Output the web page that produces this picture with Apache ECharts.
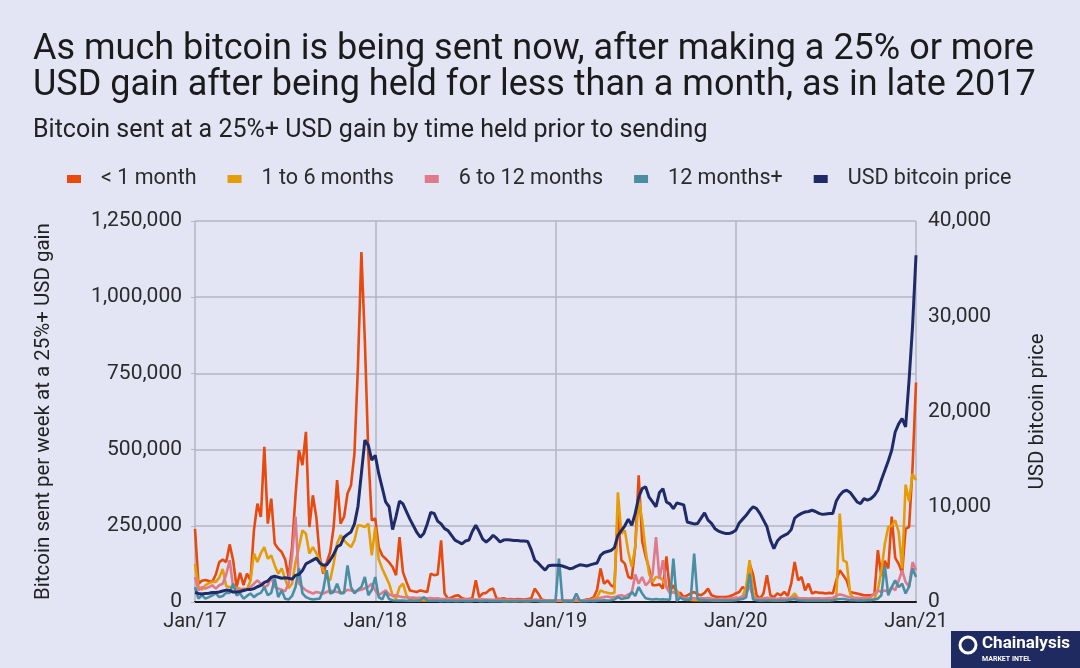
<!DOCTYPE html>
<html>
<head>
<meta charset="utf-8">
<script src="https://cdn.jsdelivr.net/npm/echarts@6/dist/echarts.min.js"></script>
<style>
  html, body { margin: 0; padding: 0; background: #e3e5f4; }
  #chart { width: 1080px; height: 668px; }
</style>
</head>
<body>
<div id="chart"></div>
<script>
// weekly points, Jan 2017 -> Jan 2021 (index 0..208), BTC values in thousands
const xTickLabels = ['Jan/17', 'Jan/18', 'Jan/19', 'Jan/20', 'Jan/21'];

const lessThan1m = [
  240, 60, 70, 72, 69, 66, 90, 131, 139, 131,
  189, 137, 49, 96, 55, 93, 71, 235, 323, 279,
  509, 257, 339, 192, 175, 164, 140, 82, 180, 350,
  498, 449, 558, 246, 350, 279, 148, 93, 130, 164,
  246, 400, 257, 279, 356, 383, 487, 771, 1148, 859,
  487, 268, 274, 180, 153, 142, 130, 115, 88, 213,
  98, 66, 38, 35, 33, 38, 35, 33, 93, 88,
  90, 202, 28, 11, 15, 20, 22, 12, 10, 10,
  12, 71, 16, 28, 30, 40, 44, 11, 10, 12,
  9, 10, 8, 10, 9, 8, 10, 12, 44, 28,
  8, 6, 5, 5, 5, 5, 6, 5, 6, 5,
  8, 6, 5, 8, 10, 15, 40, 110, 60, 71,
  55, 49, 300, 137, 126, 82, 77, 180, 416, 200,
  150, 110, 55, 55, 58, 44, 150, 35, 55, 28,
  30, 16, 22, 28, 33, 25, 22, 30, 44, 22,
  18, 16, 16, 16, 18, 22, 28, 33, 49, 40,
  126, 90, 22, 11, 28, 88, 22, 16, 28, 22,
  33, 20, 60, 131, 71, 82, 38, 60, 28, 33,
  30, 30, 28, 30, 28, 71, 104, 88, 71, 33,
  30, 28, 25, 22, 22, 22, 25, 170, 85, 135,
  110, 280, 145, 125, 95, 240, 246, 440, 720
];

const oneTo6m = [
  125, 50, 40, 55, 62, 66, 66, 80, 108, 52,
  49, 49, 47, 44, 38, 42, 70, 159, 131, 160,
  180, 142, 153, 120, 93, 110, 75, 45, 60, 131,
  180, 235, 224, 159, 180, 160, 137, 104, 80, 71,
  126, 192, 219, 202, 190, 180, 202, 252, 250, 246,
  257, 153, 246, 140, 110, 85, 60, 22, 11, 49,
  60, 22, 8, 6, 5, 5, 6, 5, 5, 6,
  5, 6, 5, 4, 5, 4, 4, 5, 4, 4,
  5, 4, 4, 5, 4, 4, 5, 4, 4, 3,
  3, 4, 3, 3, 4, 3, 3, 4, 5, 4,
  3, 3, 3, 3, 3, 4, 3, 3, 4, 3,
  4, 3, 4, 5, 6, 10, 16, 38, 33, 30,
  28, 30, 360, 224, 235, 164, 115, 180, 340, 268,
  170, 93, 66, 82, 82, 71, 49, 33, 33, 38,
  16, 10, 8, 7, 6, 6, 6, 7, 8, 6,
  5, 5, 5, 6, 6, 7, 8, 10, 20, 49,
  137, 30, 8, 6, 6, 8, 6, 5, 5, 6,
  6, 8, 15, 28, 12, 8, 6, 6, 6, 6,
  6, 6, 6, 6, 8, 10, 290, 137, 131, 28,
  11, 8, 8, 8, 8, 8, 10, 40, 100, 190,
  246, 250, 268, 230, 110, 385, 330, 420, 400
];

const sixTo12m = [
  82, 38, 49, 44, 49, 55, 44, 55, 60, 90,
  137, 49, 44, 38, 44, 40, 49, 60, 71, 60,
  49, 55, 82, 49, 44, 40, 35, 60, 150, 280,
  60, 49, 38, 33, 28, 33, 30, 28, 33, 38,
  35, 33, 30, 33, 40, 38, 35, 38, 40, 45,
  50, 60, 38, 22, 30, 38, 25, 20, 22, 18,
  16, 15, 14, 15, 13, 14, 12, 12, 13, 11,
  12, 10, 10, 11, 9, 10, 9, 8, 9, 8,
  9, 8, 8, 9, 8, 8, 7, 8, 7, 7,
  7, 7, 6, 7, 6, 6, 7, 6, 8, 7,
  6, 5, 5, 5, 5, 6, 5, 5, 6, 5,
  6, 5, 6, 6, 7, 8, 10, 14, 16, 18,
  15, 16, 20, 22, 18, 25, 30, 90, 60, 82,
  55, 66, 90, 213, 75, 137, 49, 28, 33, 25,
  16, 14, 12, 13, 12, 11, 12, 12, 13, 11,
  10, 10, 11, 10, 12, 13, 14, 15, 18, 25,
  55, 15, 12, 11, 12, 14, 12, 11, 10, 12,
  11, 12, 14, 16, 13, 12, 12, 11, 12, 12,
  12, 11, 12, 13, 14, 20, 25, 22, 18, 15,
  14, 14, 13, 14, 15, 16, 28, 38, 33, 38,
  33, 49, 38, 70, 104, 66, 49, 131, 104
];

const twelvePlus = [
  49, 11, 22, 11, 16, 22, 28, 16, 20, 30,
  30, 60, 22, 28, 11, 20, 28, 16, 25, 30,
  49, 22, 30, 77, 16, 38, 11, 8, 20, 49,
  110, 28, 16, 11, 8, 10, 11, 40, 104, 28,
  33, 60, 28, 30, 120, 49, 28, 40, 49, 82,
  22, 40, 82, 16, 8, 33, 10, 6, 5, 5,
  5, 4, 5, 4, 5, 6, 16, 5, 4, 4,
  4, 3, 4, 3, 4, 3, 3, 4, 3, 3,
  3, 5, 3, 3, 4, 3, 3, 3, 3, 3,
  3, 3, 3, 4, 3, 3, 3, 3, 4, 3,
  3, 3, 3, 3, 3, 142, 4, 3, 3, 3,
  28, 4, 3, 3, 4, 3, 4, 5, 6, 5,
  6, 8, 16, 10, 12, 14, 33, 20, 49, 28,
  12, 10, 8, 10, 8, 9, 8, 7, 142, 3,
  15, 8, 7, 8, 159, 10, 6, 6, 5, 5,
  5, 5, 5, 5, 5, 5, 6, 8, 10, 15,
  93, 8, 6, 5, 5, 5, 5, 5, 5, 5,
  5, 6, 8, 10, 6, 5, 5, 5, 5, 5,
  5, 5, 5, 5, 6, 8, 10, 10, 8, 6,
  6, 5, 6, 5, 6, 6, 8, 11, 22, 120,
  22, 49, 71, 49, 60, 28, 50, 110, 82
];

const btcPrice = [
  1000, 900, 850, 900, 920, 1000, 1000, 1050, 1150, 1250,
  1200, 1050, 1050, 1100, 1200, 1300, 1300, 1400, 1600, 1750,
  2050, 2200, 2600, 2700, 2600, 2500, 2550, 2500, 2400, 2800,
  2900, 3300, 4000, 4200, 4400, 4600, 4100, 3850, 3900, 4400,
  5000, 5800, 6000, 6800, 7100, 7350, 8200, 10000, 13500, 17000,
  16450, 14900, 15400, 13500, 12000, 10500, 10000, 7600, 9000, 10600,
  10300, 9500, 8700, 8000, 7300, 6800, 7200, 8200, 9400, 9300,
  8500, 8200, 7700, 7500, 7000, 6500, 6300, 6100, 6400, 6500,
  7400, 8050, 7400, 6600, 6300, 6600, 7000, 6700, 6300, 6500,
  6550, 6500, 6450, 6450, 6400, 6400, 6350, 5500, 4400, 4100,
  3700, 3350, 3800, 3850, 3850, 3850, 3780, 3650, 3500, 3550,
  3750, 3900, 3850, 3780, 3900, 4000, 4100, 4900, 5200, 5300,
  5400, 5700, 7000, 7500, 8000, 8700, 8050, 9300, 11000, 11900,
  12100, 11000, 10500, 10000, 11500, 11900, 10500, 10300, 9800, 10400,
  10300, 10200, 8400, 8300, 8200, 8250, 8800, 9350, 8600, 8250,
  7700, 7450, 7300, 7200, 7180, 7300, 7530, 8300, 8700, 9100,
  9600, 10000, 9800, 9280, 8600, 7900, 6500, 5600, 6400, 6800,
  7000, 7180, 7600, 8800, 9100, 9300, 9450, 9500, 9630, 9500,
  9300, 9200, 9250, 9280, 9300, 10600, 11200, 11600, 11730, 11500,
  11000, 10500, 10330, 10860, 10700, 10860, 11200, 11730, 12800, 13800,
  14800, 15930, 17850, 18700, 19250, 18380, 23280, 28880, 36400
];

const names = ['< 1 month', '1 to 6 months', '6 to 12 months', '12 months+', 'USD bitcoin price'];
const colors = ['#e8490c', '#e59c06', '#df7a89', '#4b8ea4', '#1e2b68'];

const chart = echarts.init(document.getElementById('chart'));

const gridColor = '#b3b5c2';
const textColor = '#2b2b2b';

function heldSeries(name, values, color) {
  return {
    name: name,
    type: 'line',
    yAxisIndex: 0,
    symbol: 'none',
    lineStyle: { width: 2.6, color: color },
    itemStyle: { color: color },
    data: values.map((v, i) => [i, v * 1000])
  };
}

const option = {
  backgroundColor: '#e3e5f4',
  animation: false,
  textStyle: { fontFamily: 'Roboto' },
  color: colors,
  title: [
    {
      text: 'As much bitcoin is being sent now, after making a 25% or more\nUSD gain after being held for less than a month, as in late 2017',
      left: 28,
      top: 27,
      textStyle: { fontSize: 36, lineHeight: 36, fontWeight: 'normal', color: '#1b1b1b', fontFamily: 'Roboto' }
    },
    {
      text: 'Bitcoin sent at a 25%+ USD gain by time held prior to sending',
      left: 28,
      top: 113,
      textStyle: { fontSize: 25, fontWeight: 'normal', color: '#222222', fontFamily: 'Roboto' }
    }
  ],
  legend: {
    left: 62,
    top: 163,
    icon: 'rect',
    itemWidth: 14,
    itemHeight: 8,
    itemGap: 31,
    data: names,
    textStyle: { fontSize: 21.5, color: textColor, padding: [0, 0, 0, 15] }
  },
  grid: { left: 195, right: 164, top: 221, bottom: 66 },
  xAxis: {
    type: 'value',
    min: 0,
    max: 208,
    interval: 52,
    axisLine: { show: true, lineStyle: { color: '#1a1a1a', width: 2 } },
    axisTick: { show: false },
    splitLine: { show: true, lineStyle: { color: gridColor, width: 1.5 } },
    axisLabel: {
      fontSize: 20,
      color: textColor,
      margin: 10,
      formatter: (v) => xTickLabels[Math.round(v / 52)]
    }
  },
  yAxis: [
    {
      type: 'value',
      min: 0,
      max: 1250000,
      interval: 250000,
      name: 'Bitcoin sent per week at a 25%+ USD gain',
      nameLocation: 'middle',
      nameRotate: 90,
      nameGap: 141,
      nameTextStyle: { fontSize: 20.5, color: '#222222' },
      axisLine: { show: false },
      axisTick: { show: true, length: 4, lineStyle: { color: gridColor } },
      splitLine: { show: true, lineStyle: { color: gridColor, width: 1.5 } },
      axisLabel: { fontSize: 21, color: textColor, margin: 13 }
    },
    {
      type: 'value',
      min: 0,
      max: 40000,
      interval: 10000,
      position: 'right',
      name: 'USD bitcoin price',
      nameLocation: 'middle',
      nameRotate: 90,
      nameGap: 111,
      nameTextStyle: { fontSize: 20.5, color: '#222222' },
      axisLine: { show: false },
      axisTick: { show: false },
      splitLine: { show: false },
      axisLabel: { fontSize: 21, color: textColor, margin: 12 }
    }
  ],
  series: [
    heldSeries(names[0], lessThan1m, colors[0]),
    heldSeries(names[1], oneTo6m, colors[1]),
    heldSeries(names[2], sixTo12m, colors[2]),
    heldSeries(names[3], twelvePlus, colors[3]),
    {
      name: names[4],
      type: 'line',
      yAxisIndex: 1,
      symbol: 'none',
      lineStyle: { width: 3, color: colors[4] },
      itemStyle: { color: colors[4] },
      data: btcPrice.map((v, i) => [i, v])
    }
  ],
  graphic: [
    {
      type: 'group',
      left: 951,
      top: 631,
      children: [
        { type: 'rect', shape: { x: 0, y: 0, width: 129, height: 37 }, style: { fill: '#1f2a60' } },
        { type: 'circle', shape: { cx: 17, cy: 14, r: 8 }, style: { fill: 'none', stroke: '#ffffff', lineWidth: 3 } },
        { type: 'text', style: { x: 31, y: 4, text: 'Chainalysis', fill: '#ffffff', font: 'bold 17px Roboto, sans-serif' } },
        { type: 'text', style: { x: 31, y: 25, text: 'MARKET INTEL', fill: '#ffffff', font: 'bold 7px Roboto, sans-serif' } }
      ]
    }
  ]
};

chart.setOption(option);
</script>
</body>
</html>
